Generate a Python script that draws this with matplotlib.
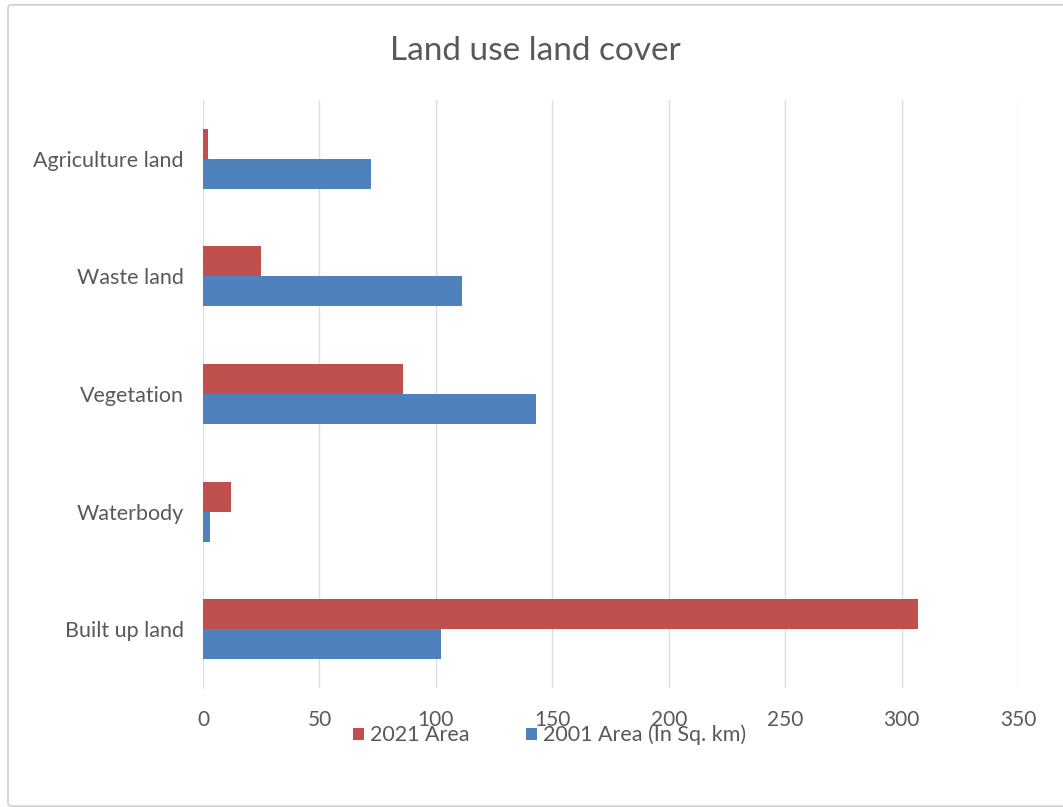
import numpy as np
import matplotlib.pyplot as plt
from matplotlib.patches import FancyBboxPatch

# Land use classes, bottom to top as drawn
categories = ["Built up land", "Waterbody", "Vegetation", "Waste land", "Agriculture land"]
area_2001 = [102, 3, 143, 111, 72]
area_2021 = [307, 12, 86, 25, 2]
xticks = [0, 50, 100, 150, 200, 250, 300, 350]

red = "#C0504D"
blue = "#4F81BD"
txt = "#595959"

plt.rcParams['font.family'] = ['Lato', 'DejaVu Sans']

fig = plt.figure(figsize=(10.63, 8.07), dpi=100)
ax = fig.add_axes([0.191, 0.1475, 0.7667, 0.7285])

# outer chart frame
frame = FancyBboxPatch((0.0075, 0.001), 1.2, 0.993, boxstyle="round,pad=0,rounding_size=0.004",
                       transform=fig.transFigure, fill=False, edgecolor="#d0d0d0", linewidth=1.2)
fig.patches.append(frame)

y = np.arange(len(categories))
h = 0.255
ax.barh(y - h / 2, area_2001, height=h, color=blue, label="2001 Area (In Sq. km)", zorder=3)
ax.barh(y + h / 2, area_2021, height=h, color=red, label="2021 Area", zorder=3)

ax.set_xlim(0, 350)
ax.set_ylim(-0.5, len(categories) - 0.5)
ax.set_xticks(xticks)
ax.set_yticks(y)
ax.set_yticklabels(categories)
ax.tick_params(axis='x', length=0, labelsize=15, colors=txt, pad=16)
ax.tick_params(axis='y', length=0, labelsize=15.5, colors=txt, pad=14)
ax.grid(axis='x', color="#dedede", linewidth=1, zorder=0)
for s in ["top", "right", "bottom"]:
    ax.spines[s].set_visible(False)
ax.spines["left"].set_color("#dedede")

fig.text(0.504, 0.937, "Land use land cover", ha="center", va="center", fontsize=24, color=txt)

handles, labels = ax.get_legend_handles_labels()
fig.legend(handles[::-1], labels[::-1], loc="center", bbox_to_anchor=(0.517, 0.089), ncol=2,
           frameon=False, fontsize=15.5, labelcolor=txt, handlelength=0.5, handleheight=0.5,
           handletextpad=0.3, columnspacing=2.6)

fig.savefig("out.png", dpi=100)
